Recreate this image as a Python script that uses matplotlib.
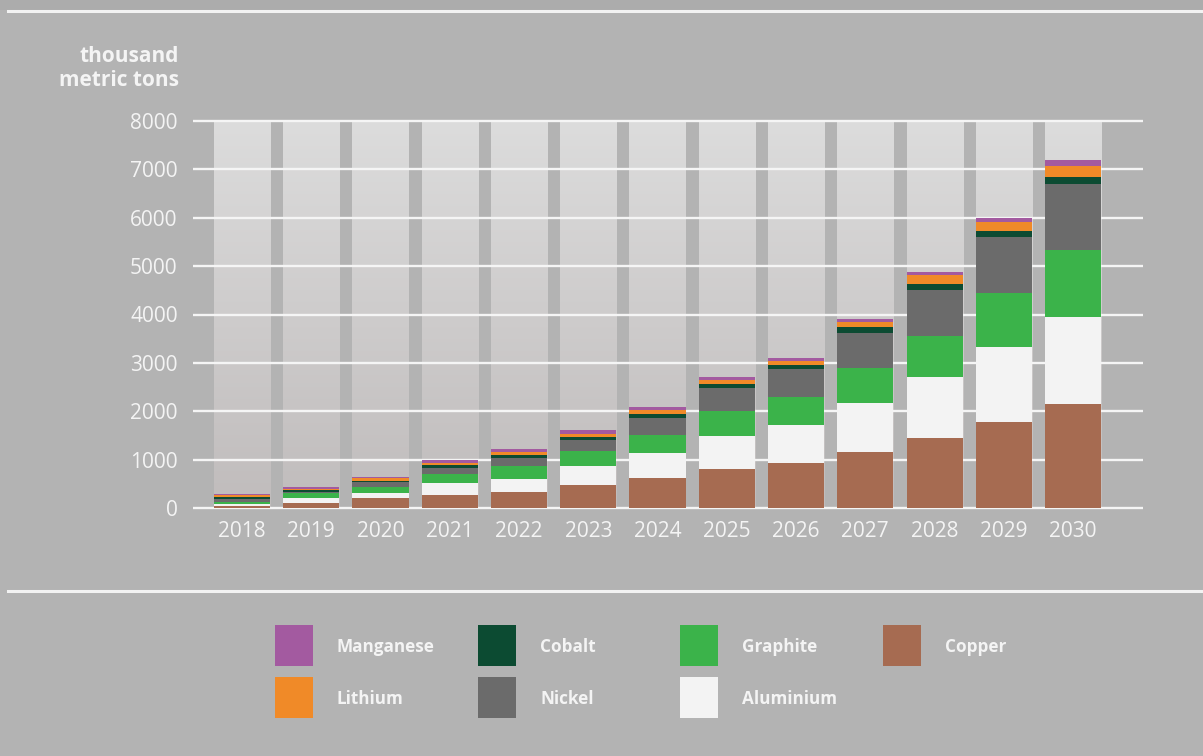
import matplotlib
matplotlib.use("Agg")
import matplotlib.pyplot as plt
import numpy as np
from matplotlib.patches import Rectangle
from matplotlib.lines import Line2D

# ---------------- data (thousand metric tons) ----------------
years = ['2018', '2019', '2020', '2021', '2022', '2023', '2024',
         '2025', '2026', '2027', '2028', '2029', '2030']
copper    = [45, 100, 200, 270, 340, 475, 625, 800, 937, 1155, 1455, 1785, 2150]
aluminium = [35, 100, 110, 250, 265, 390, 520, 695, 780, 1010, 1260, 1550, 1805]
graphite  = [40, 100, 130, 190, 258, 320, 365, 510, 585, 725, 850, 1105, 1380]
nickel    = [60, 40, 90, 125, 175, 220, 345, 470, 565, 735, 945, 1165, 1360]
cobalt    = [45, 25, 30, 45, 62, 65, 95, 90, 90, 110, 118, 125, 155]
lithium   = [35, 35, 50, 55, 62, 70, 75, 80, 90, 120, 186, 185, 225]
manganese = [30, 30, 30, 55, 65, 70, 60, 55, 60, 50, 62, 80, 120]

series_names = ['Copper', 'Aluminium', 'Graphite', 'Nickel', 'Cobalt', 'Lithium', 'Manganese']
series_vals = [copper, aluminium, graphite, nickel, cobalt, lithium, manganese]
series_colors = ['#a66b51', '#f3f3f3', '#3bb34a', '#6b6b6b', '#0c4b32', '#f08a28', '#a35aa0']

yticks = [0, 1000, 2000, 3000, 4000, 5000, 6000, 7000, 8000]

# legend layout (name order as in the reference, column-major)
legend_cols = [['Manganese', 'Lithium'], ['Cobalt', 'Nickel'],
               ['Graphite', 'Aluminium'], ['Copper']]

# ---------------- styling ----------------
BG = '#b3b3b3'
TXT = '#f4f4f4'
FONT = ['Open Sans', 'DejaVu Sans']
plt.rcParams['font.family'] = FONT

W, H = 1203, 756
fig = plt.figure(figsize=(W / 100, H / 100), dpi=100, facecolor=BG)

def fx(px):
    return px / W

def fy(py):
    return 1 - py / H

# frame decorations
fig.patches.append(Rectangle((0, fy(10)), 1, 10 / H, transform=fig.transFigure,
                             facecolor='#acacac', edgecolor='none', zorder=0))
fig.lines.append(Line2D([fx(8), 1], [fy(10.5), fy(10.5)], transform=fig.transFigure,
                        color='#f2f2f2', lw=2.2))
fig.lines.append(Line2D([fx(8), 1], [fy(591), fy(591)], transform=fig.transFigure,
                        color='#f2f2f2', lw=2.2))

# axes
ax_left, ax_right = 193, 1143
ax_top, ax_bot = 121, 508
ax = fig.add_axes([fx(ax_left), fy(ax_bot), (ax_right - ax_left) / W, (ax_bot - ax_top) / H])
ax.set_facecolor('none')

x = np.arange(len(years))
bw = 0.81

# column gradient backgrounds
top_c = np.array([0xdc, 0xdc, 0xdc]) / 255
bot_c = np.array([0xc0, 0xbc, 0xbc]) / 255
t = np.linspace(0, 1, 256)[:, None]
grad = (top_c[None, :] * (1 - t) + bot_c[None, :] * t)[:, None, :]
for xi in x:
    ax.imshow(grad, extent=(xi - bw / 2, xi + bw / 2, 0, yticks[-1]),
              aspect='auto', zorder=0, interpolation='bilinear')

# gridlines
ax.hlines(yticks, -0.708, 13.01, colors='#f5f5f5', lw=1.7, zorder=1.5, clip_on=False)

# stacked bars
bottom = np.zeros(len(years))
for name, vals, col in zip(series_names, series_vals, series_colors):
    v = np.array(vals, dtype=float)
    ax.bar(x, v, bw, bottom=bottom, color=col, edgecolor='none', zorder=2, label=name)
    bottom += v

ax.set_xlim(-0.708, 13.01)
ax.set_ylim(0, yticks[-1])
ax.set_yticks(yticks)
ax.set_yticklabels([str(v) for v in yticks])
ax.set_xticks(x)
ax.set_xticklabels(years)
ax.tick_params(axis='y', length=0, pad=11, labelsize=15, labelcolor=TXT)
ax.tick_params(axis='x', length=0, pad=9.5, labelsize=15, labelcolor=TXT)
for s in ax.spines.values():
    s.set_visible(False)

# axis title
fig.text(fx(179), fy(56), 'thousand', ha='right', va='center', color=TXT,
         fontsize=15, fontweight='bold')
fig.text(fx(179), fy(80), 'metric tons', ha='right', va='center', color=TXT,
         fontsize=15, fontweight='bold')

# legend
color_of = dict(zip(series_names, series_colors))
col_x = [275, 478, 680, 883]
row_y = [625, 677]
pw, ph = 38, 41
for cx, names in zip(col_x, legend_cols):
    for ry, name in zip(row_y, names):
        fig.patches.append(Rectangle((fx(cx), fy(ry + ph)), pw / W, ph / H,
                                     transform=fig.transFigure,
                                     facecolor=color_of[name], edgecolor='none'))
        fig.text(fx(cx + 62), fy(ry + ph / 2 + 1), name, ha='left', va='center',
                 color=TXT, fontsize=12.3, fontweight='bold')

fig.savefig('out.png', dpi=100, facecolor=BG)
